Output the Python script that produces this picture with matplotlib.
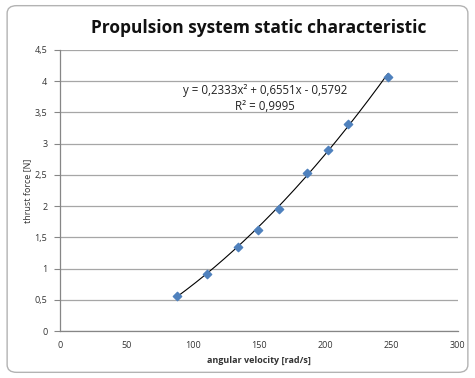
import matplotlib.pyplot as plt
import numpy as np
from matplotlib.patches import FancyBboxPatch
from matplotlib.ticker import FuncFormatter, MultipleLocator

omega = [88, 111, 134, 149, 165, 186, 202, 217, 247]
thrust = [0.57, 0.92, 1.34, 1.62, 1.95, 2.53, 2.90, 3.32, 4.07]
equation = "y = 0,2333x² + 0,6551x - 0,5792"
r_squared = "R² = 0,9995"

plt.rcParams["font.family"] = ["Open Sans", "DejaVu Sans"]

fig = plt.figure(figsize=(4.75, 3.78), dpi=100)
ax = fig.add_axes([0.126, 0.124, 0.838, 0.744])

# outer chart frame
fig.patches.append(FancyBboxPatch(
    (0.015, 0.015), 0.97, 0.97,
    boxstyle="round,pad=0,rounding_size=0.02",
    transform=fig.transFigure, fill=False,
    edgecolor="#b3b3b3", linewidth=1.0))

# trendline (2nd order polynomial fitted to the measurements)
coef = np.polyfit(omega, thrust, 2)
xs = np.linspace(min(omega), max(omega), 200)
ax.plot(xs, np.polyval(coef, xs), color="black", linewidth=0.8, zorder=2)

ax.scatter(omega, thrust, marker="D", s=18, color="#4f81bd",
           edgecolors="#4f81bd", zorder=3)

ax.set_xlim(0, 300)
ax.set_ylim(0, 4.5)
ax.xaxis.set_major_locator(MultipleLocator(50))
ax.yaxis.set_major_locator(MultipleLocator(0.5))
comma = FuncFormatter(lambda v, p: f"{v:g}".replace(".", ","))
ax.xaxis.set_major_formatter(comma)
ax.yaxis.set_major_formatter(comma)

ax.grid(axis="y", color="#a6a6a6", linewidth=0.9)
ax.set_axisbelow(True)
for side in ["top", "right"]:
    ax.spines[side].set_visible(False)
for side in ["left", "bottom"]:
    ax.spines[side].set_color("#868686")
    ax.spines[side].set_linewidth(0.9)
ax.tick_params(axis="y", length=4, color="#868686", labelsize=6.5,
               labelcolor="#333333", pad=5)
ax.tick_params(axis="x", length=0, labelsize=6.5, labelcolor="#333333", pad=7)

ax.set_xlabel("angular velocity [rad/s]", fontsize=6.5, fontweight="bold",
              color="#333333", labelpad=4)
ax.set_ylabel("thrust force [N]", fontsize=6.5, color="#333333", labelpad=2)

ax.text(0.515, 0.854, equation, transform=ax.transAxes, ha="center",
        va="center", fontsize=8.3, color="#222222")
ax.text(0.515, 0.798, r_squared, transform=ax.transAxes, ha="center",
        va="center", fontsize=8.3, color="#222222")

fig.text(0.545, 0.925, "Propulsion system static characteristic",
         ha="center", va="center", fontsize=12.5, fontweight="bold",
         color="#111111")

fig.savefig("out.png", dpi=100)
